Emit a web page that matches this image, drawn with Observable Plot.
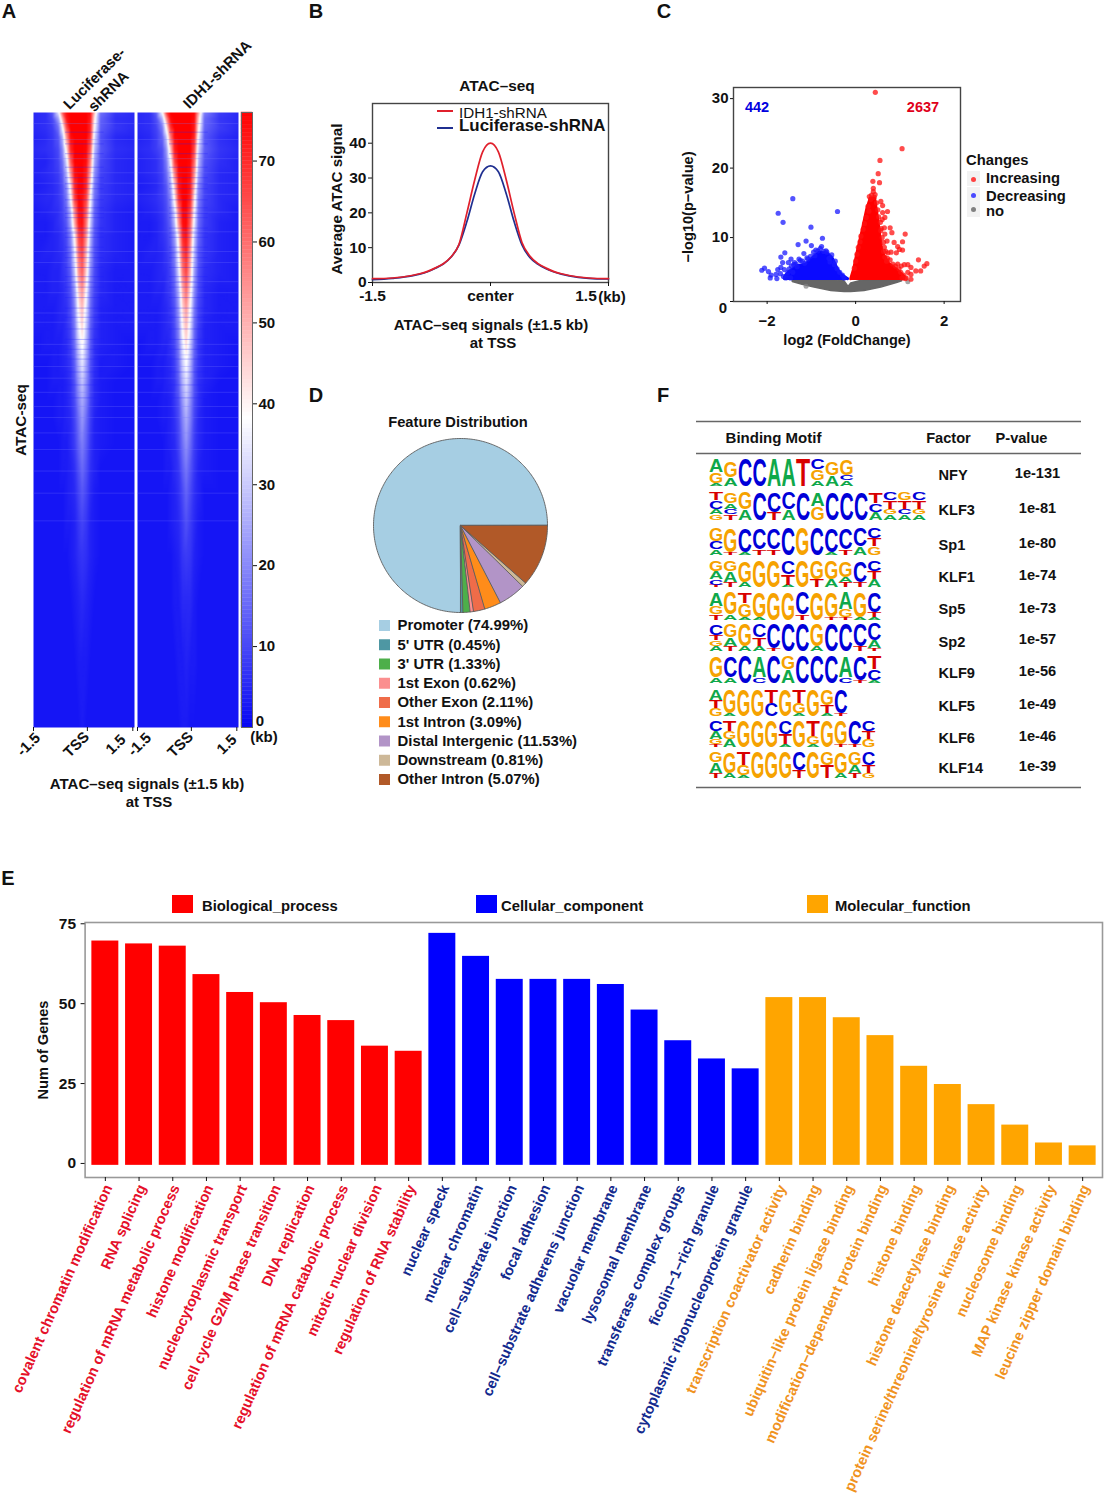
<!DOCTYPE html>
<html><head><meta charset="utf-8">
<script src="https://cdn.jsdelivr.net/npm/d3@7"></script>
<script src="https://cdn.jsdelivr.net/npm/@observablehq/plot@0.6"></script>
<style>
html,body{margin:0;padding:0;background:#fff}
#page{position:relative;width:1104px;height:1500px;overflow:hidden;font-family:"Liberation Sans",Arial,sans-serif;color:#111}
#page>svg{position:absolute;overflow:visible}
.lb{position:absolute;white-space:nowrap;font-weight:bold;line-height:1}
.sw{position:absolute}
</style></head><body><div id="page"></div>
<script>
// ---------- Panel A: heatmap profile ----------
const heatKb=[-1.5,-1.14,-0.94,-0.76,-0.64,-0.52,-0.40,-0.28,-0.16,-0.05,0.07,0.19,0.31,0.49,0.94,1.5];
const heatRank=[0,1,2.5,4,6,8,10,12,14,16,18,20,23,26,29,32,35,38,41,44,47,50,54,58,62,67,72,80,90,100];
const heatLuc=[
[5,6,12,34,62,74,76,76,76,76,76,74,48,16,7,5],
[5,6,10,24,50,72,76,76,76,76,76,72,42,14,6,5],
[5,6,8,16,36,64,76,76,76,76,76,70,38,13,7,5],
[4,5,7,12,26,54,74,76,76,76,76,68,33,11,5,4],
[5,6,7,10,20,42,70,76,76,76,75,62,28,12,6,5],
[4,4,6,9,16,32,62,76,76,76,74,56,24,10,5,4],
[4,5,6,8,13,26,52,74,76,76,72,50,21,9,5,4],
[3,4,5,7,11,20,42,70,76,76,70,44,18,8,5,4],
[4,5,5,7,10,17,36,66,76,74,66,38,16,8,5,4],
[3,4,5,6,9,14,28,56,74,74,62,34,14,7,4,3],
[3,3,4,6,8,12,24,50,72,74,58,30,13,7,4,3],
[3,3,4,5,7,10,19,40,66,70,54,27,12,6,4,3],
[3,4,4,5,6,9,16,34,60,66,48,24,11,6,4,3],
[3,3,4,4,6,8,13,28,54,62,44,20,10,5,3,3],
[3,3,4,4,5,7,11,22,46,54,38,17,9,5,3,3],
[3,3,3,4,5,6,10,19,40,48,33,15,8,4,3,3],
[3,3,3,4,4,6,9,17,35,44,29,13,7,4,3,3],
[2,3,3,3,4,5,8,15,30,39,26,12,6,4,3,2],
[2,2,3,3,4,5,7,13,26,34,23,11,6,3,3,2],
[2,2,3,3,3,4,6,11,22,29,20,10,5,3,2,2],
[2,2,2,3,3,4,6,10,19,25,18,9,5,3,2,2],
[2,2,2,3,3,4,5,9,16,22,15,8,4,3,2,2],
[2,2,2,2,3,3,5,8,14,18,13,7,4,3,2,2],
[2,2,2,2,3,3,4,6,11,15,11,6,4,2,2,2],
[2,2,2,2,2,3,4,5,9,12,9,5,3,2,2,2],
[2,2,2,2,2,3,3,4,7,9,7,4,3,2,2,2],
[2,2,2,2,2,2,3,4,6,7,6,4,3,2,2,2],
[2,2,2,2,2,2,2,3,4,5,4,3,2,2,2,2],
[2,2,2,2,2,2,2,2,3,3,3,2,2,2,2,2],
[2,2,2,2,2,2,2,2,2,3,2,2,2,2,2,2]];
const heatIdh=[
[5,6,14,38,66,76,76,76,76,76,76,75,52,18,8,5],
[5,6,11,27,54,74,76,76,76,76,76,74,46,15,7,5],
[5,6,9,18,40,68,76,76,76,76,76,72,41,14,8,5],
[4,5,8,14,29,58,75,76,76,76,76,70,36,12,6,4],
[5,6,8,11,22,46,72,76,76,76,76,65,31,13,7,5],
[4,5,6,10,18,36,66,76,76,76,75,60,27,11,6,4],
[4,5,6,9,15,29,56,75,76,76,74,54,24,10,5,4],
[3,4,5,8,12,23,46,72,76,76,72,48,20,9,5,4],
[4,5,6,8,11,19,40,68,76,76,70,42,18,9,5,4],
[3,4,5,7,10,16,32,60,75,75,66,38,16,8,5,3],
[3,3,4,6,9,14,27,54,74,75,62,34,15,8,4,3],
[3,3,4,6,8,12,22,44,70,73,58,30,14,7,4,3],
[3,4,4,5,7,10,18,38,64,70,52,27,12,7,4,3],
[3,3,4,5,6,9,15,32,58,66,48,23,11,6,4,3],
[3,3,4,4,6,8,13,26,50,60,42,20,10,5,3,3],
[3,3,3,4,5,7,11,22,44,53,37,17,9,5,3,3],
[3,3,3,4,5,6,10,19,39,48,33,15,8,4,3,3],
[2,3,3,4,4,6,9,17,34,43,29,14,7,4,3,2],
[2,2,3,3,4,5,8,15,30,38,26,12,7,4,3,2],
[2,2,3,3,4,5,7,13,26,33,23,11,6,4,2,2],
[2,2,2,3,3,4,7,11,22,29,20,10,6,3,2,2],
[2,2,2,3,3,4,6,10,19,25,18,9,5,3,2,2],
[2,2,2,2,3,4,5,9,16,21,15,8,5,3,2,2],
[2,2,2,2,3,3,5,7,13,17,12,7,4,3,2,2],
[2,2,2,2,2,3,4,6,10,14,10,6,4,2,2,2],
[2,2,2,2,2,3,4,5,8,11,8,5,3,2,2,2],
[2,2,2,2,2,2,3,4,7,8,7,4,3,2,2,2],
[2,2,2,2,2,2,3,3,5,5,5,3,2,2,2,2],
[2,2,2,2,2,2,2,3,3,4,3,3,2,2,2,2],
[2,2,2,2,2,2,2,2,3,3,2,2,2,2,2,2]];
const streakDark=[3.2,5.1,6.7,8.9,10.6,11.6,12.4,14.2,15.5,16.4,17.1,18.8,19.6,20.3,21.9,22.8,23.6,25.2,26.7,27.6,28.4,30.1,31.8,33.3,35.2,36.9,38.5,40.1,42.2,44.3,46.4];
const streakLight=[1.8,4.4,7.5,9.8,11.5,13.3,16.2,19.4,22.6,24.4,27.5,29.3,32.6,34.1,37.7,39.4,41.3,43.2,45.5,47.8,49.6,52.1,54.8,58.3,61.9,66.4];
const heatTicks=[-1.5,0.1,1.45];
const heatTickText=["-1.5","TSS","1.5"];
const barTicks=[10,20,30,40,50,60,70];

// ---------- Panel B ----------
const profKb=[-1.5,-1.25,-1,-0.9,-0.8,-0.7,-0.6,-0.5,-0.4,-0.3,-0.2,-0.1,0,0.1,0.2,0.3,0.4,0.5,0.6,0.7,0.8,0.9,1,1.25,1.5];
const profIdh=[1.1,1.3,2,2.5,3.2,4.2,5.4,7.4,11,20,29.5,37.5,40,37.5,29.5,20,11.5,7.6,5.5,4.2,3.2,2.5,2,1.3,1.1];
const profLuc=[0.8,1.2,1.9,2.4,3.1,4.1,5.3,7.3,10.8,17.5,25.5,31.8,33.5,31.8,25.5,17.5,10.8,7.2,5.3,4,3.1,2.4,1.9,1.2,1];

// ---------- Panel C: dense clouds as envelopes, separate points as dots ----------
const grayEnvX=[-1.42,-1.2,-0.93,-0.55,-0.25,-0.16,-0.1,0.2,0.58,0.95,1.05];
const grayLow=[3.6,3.2,2.8,2.3,2.15,2.15,2.15,2.3,2.8,3.5,3.7];
const grayHigh=[3.9,3.9,3.9,3.9,3.7,2.9,3.4,3.9,3.9,3.9,3.9];
const blueEnvX=[-1.6,-1.5,-1.3,-1.12,-0.97,-0.82,-0.63,-0.52,-0.4,-0.33,-0.17];
const blueTop=[4.3,5,5.9,6.1,7,7.8,7.7,7,5.4,4.7,4];
const redEnvX=[-0.1,-0.03,0.05,0.16,0.26,0.34,0.44,0.5,0.57,0.61,0.76,0.95,1.1];
const redTop=[4,5.5,8,11,14,15.6,15.6,13,9.6,7.8,6.2,5.3,4.4];
const redX=[0.445,1.05,0.55,0.51,0.39,0.54,0.4,0.4,0.31,0.57,0.61,0.72,0.61,0.66,0.6,0.78,0.65,0.82,1.12,0.66,0.57,0.71,0.87,1.06,0.95,0.99,1.06,0.92,0.73,0.8,1.42,1.61,1.55,1.47,1.36,1.25,1.18,1.25,1.14,1.25,1.03,1.1,0.95,1.18,
0.28,0.3,0.24,0.2,0.17,0.12,0.1,0.06,0.03,0,-0.03,0.34,0.42,0.47,0.5,0.52,0.56,0.58,0.6,0.63,0.65,0.68,0.72,0.78,0.84,0.9,0.98,1.02,1.08,1.12,1.05,0.66,0.63,0.7,0.44,0.36];
const redY=[30.9,22.8,21.1,19.2,18.1,17.9,17.1,16.6,15.9,15.2,14.6,13.75,13.6,12.9,12.6,11.4,11.4,10.7,10.5,10.5,11,9.5,9.3,9.4,8.7,8.3,8.2,7.8,7.8,7.9,6.8,6.25,5.9,5.2,5.2,5.7,5,4.7,4.2,4,5.9,6.1,6.2,6.1,
14.5,13.8,12.9,12,11.2,10.2,9.4,8.6,7.6,6.6,5.6,15.5,15.8,15,14,13,12.2,11.3,10,9.3,8.6,8,7,6.8,6.2,5.9,5.5,5,4.6,4.1,4.2,7.2,8,6.6,16.2,16.1];
const blueX=[-1.42,-1.75,-0.41,-1.64,-1.01,-0.75,-1.12,-1.3,-1,-0.77,-1.6,-1.17,-1.69,-0.9,-0.67,-0.54,-1.46,-1.52,-2.06,-2.12,-1.97,-1.91,-1.93,-1.8,-1.76,-1.78,-1.69,-1.61,-1.53,-1.65,-1.58,-1.25,-1.35,-1.2,
-1.45,-1.4,-1.32,-1.28,-1.15,-1.08,-1.02,-0.95,-0.92,-0.85,-0.8,-0.72,-0.65,-0.6,-0.58,-0.48,-0.46,-0.42,-0.36,-0.3,-0.26,-1.7,-1.63,-1.55,-1.47,-1.42,-1.5,-1.38,-1.1];
const blueY=[15.6,13.5,13.75,12.2,11.5,9.9,9.5,9,8.85,8.7,7.8,7.7,7.2,8.2,8.1,7.5,6.9,6.4,5.6,5.3,5.1,4.6,4.2,4.7,5.4,4.1,5.7,5.4,5,6.4,4.2,6.7,6.2,6.6,
5.9,6.1,5.8,6.9,6.3,6.9,7.3,7.9,7.4,8.1,8.4,8,7.9,7,6.5,6.1,6.6,5.5,5,4.6,4.2,4.8,4.4,4.6,4.2,5,5.5,6.4,7.1];
const grayX=[1.18,-1.12];
const grayY=[3.65,3.0];

// ---------- Panel D ----------
const pieLegend=["Promoter (74.99%)","5' UTR (0.45%)","3' UTR (1.33%)","1st Exon (0.62%)","Other Exon (2.11%)","1st Intron (3.09%)","Distal Intergenic (11.53%)","Downstream (0.81%)","Other Intron (5.07%)"];
const pieColors=["#a6cee3","#4e97a3","#4daf4a","#fb8f8f","#ef6c49","#ff8c1a","#b294c7","#cdb898","#b15928"];
const pieDrawn=[74.99,0.45,1.33,0.62,2.11,3.09,5.07,0.81,11.53];

// ---------- Panel E ----------
const termsBP=["covalent chromatin modification","RNA splicing","regulation of mRNA metabolic process","histone modification","nucleocytoplasmic transport","cell cycle G2/M phase transition","DNA replication","regulation of mRNA catabolic process","mitotic nuclear division","regulation of RNA stability"];
const termsCC=["nuclear speck","nuclear chromatin","cell−substrate junction","focal adhesion","cell−substrate adherens junction","vacuolar membrane","lysosomal membrane","transferase complex groups","ficolin−1−rich granule","cytoplasmic ribonucleoprotein granule"];
const termsMF=["transcription coactivator activity","cadherin binding","ubiquitin−like protein ligase binding","modification−dependent protein binding","histone binding","histone deacetylase binding","protein serine/threonine/tyrosine kinase activity","nucleosome binding","MAP kinase kinase activity","leucine zipper domain binding"];
const countsBP=[69.6,68.7,68,59.1,53.5,50.3,46.3,44.7,36.7,35.1];
const countsCC=[72,64.8,57.6,57.6,57.6,56,48,38.4,32.7,29.6];
const countsMF=[51.9,51.9,45.6,40,30.4,24.7,18.4,12,6.4,5.5];

// ---------- Panel F ----------
const motifFactor=["NFY","KLF3","Sp1","KLF1","Sp5","Sp2","KLF9","KLF5","KLF6","KLF14"];
const motifP=["1e-131","1e-81","1e-80","1e-74","1e-73","1e-57","1e-56","1e-49","1e-46","1e-39"];
const motifs=[
["A5G4A1","G6A3","C10","C10","A10","A10","T10","C4G4A2","G5A4","G6C2A2"],
["T3C3A2G2","G4A2C2T2","G6A4","C10","C7T3","C6A4","C10","A5G5","C10","C10","C10","T4C3A3","C3T3G2A2","G3T3C2A2","C3T3G2A2"],
["G5C3A2","G9T1","C9A1","C8T2","C8T2","C10","G10","C10","C9A1","C8T2","C7A3","C4T3G3"],
["G4A3C2T1","G4A4T2","G8A2","G10","G10","C5T4A1","G10","G7T3","G7A3","G6A2T2","C8T2","C4T3A3"],
["A5G3T2","G8A2","T4G5A1","G9A1","G10","G10","C8T2","G10","G9T1","A6G3T1","G9A1","C7T2A1"],
["C4T2G2A2","G5A3T2","G8A2","C5T3A2","C9T1","C10","C10","G8A2","C10","C10","C8T2","C6A3T1"],
["G8A2","C8A2","C10","A8C2","C10","G5A5","C10","C10","C10","A8C2","C9T1","T5C4A1"],
["A4T3G3","G9A1","G10","G10","T5C5","G10","T5G4A1","G10","G6T3A1","C9T1"],
["C4A3G2T1","T4G3A3","G10","G10","G10","C5T4A1","G10","T6G3A1","G10","G9T1","C9T1","C4T3G3"],
["G4A4T2","G8A2","T5G4A1","G10","G10","G10","C7T3","G10","G5T5","G8A2","G5A3T2","C5T3G2"]];

// ---------- layout constants (not data) ----------
const page=document.getElementById("page");
const FONT="'Liberation Sans',Arial,sans-serif";
const baseStyle=(size=15)=>({fontFamily:FONT,fontSize:size+"px",fontWeight:"bold",color:"#111",background:"transparent",overflow:"visible"});
function place(node,x,y){node.style.left=x+"px";node.style.top=y+"px";page.appendChild(node);return node;}
function label(t,cx,cy,o={}){const d=document.createElement("div");d.className="lb";d.textContent=t;
  const a=o.anchor||"middle";const tx=a==="middle"?"-50%":a==="start"?"0":"-100%";
  d.style.left=cx+"px";d.style.top=cy+"px";d.style.fontSize=(o.size||14)+"px";d.style.color=o.color||"#111";
  if(o.weight)d.style.fontWeight=o.weight;
  d.style.transform=`translate(${tx},-50%) rotate(${o.rotate||0}deg)`;page.appendChild(d);return d;}
function swatch(x,y,w,h,c,r){const d=document.createElement("div");d.className="sw";d.style.cssText=`left:${x}px;top:${y}px;width:${w}px;height:${h}px;background:${c};${r?"border-radius:50%;":""}`;page.appendChild(d);}

// panel letters
[["A",9,11],["B",316,11],["C",664,11],["D",316,395],["F",663,395],["E",8,878]].forEach(([t,x,y])=>label(t,x,y,{size:20}));

// ---------- A ----------
const heatColor={type:"linear",domain:[0,38,76],range:["#0808f4","#ffffff","#ff0000"]};
function heat(mat,left,labelDx){
  const cells=[];mat.forEach((row,r)=>row.forEach((v,c)=>cells.push({kb:heatKb[c],rank:heatRank[r],v})));
  const svg=Plot.plot({width:131,height:675,marginLeft:20,marginRight:10,marginTop:0,marginBottom:60,style:baseStyle(15),
    x:{domain:[-1.5,1.5]},y:{domain:[0,100],reverse:true,axis:null},color:heatColor,
    marks:[Plot.raster(cells,{x:"kb",y:"rank",fill:"v",interpolate:"barycentric",pixelSize:1}),
      Plot.ruleY(streakLight,{y:d=>d,x1:-1.5,x2:1.5,stroke:"#7878ff",strokeOpacity:0.3,strokeWidth:0.9}),
      Plot.ruleY(streakDark,{y:d=>d,x1:-0.55,x2:0.6,stroke:"#2020ff",strokeOpacity:0.34,strokeWidth:0.9}),
      Plot.axisX(heatTicks,{tickSize:4,text:null,label:null}),
      ...heatTicks.map((t,i)=>Plot.text([t],{x:d=>d,y:100,text:()=>heatTickText[i],dy:17,dx:labelDx[i],rotate:-45,fontSize:15}))]});
  return place(svg,left-20,112);
}
heat(heatLuc,33,[-5,-11,-17]);heat(heatIdh,137,[2,-11,-10]);
const levels=d3.range(0,76,0.5);
place(Plot.plot({width:50,height:615,marginLeft:0,marginRight:39,marginTop:0,marginBottom:0,style:baseStyle(15),
  x:{domain:[0,1],axis:null},y:{domain:[0,76]},color:heatColor,
  marks:[Plot.rect(levels,{x1:0,x2:1,y1:d=>d,y2:d=>d+0.5,fill:d=>d,stroke:d=>d,strokeWidth:0.4}),
    Plot.frame({stroke:"#666",strokeWidth:1}),
    Plot.axisY(barTicks,{anchor:"right",tickSize:4,tickPadding:2,label:null})]}),241,112);
label("0",260,720,{size:15});label("(kb)",264,736,{size:15});
label("Luciferase-",94,78,{size:15,rotate:-45});label("shRNA",108,91,{size:15,rotate:-45});
label("IDH1-shRNA",217,74,{size:15,rotate:-45});
label("ATAC-seq",21,420,{size:15.3,rotate:-90});
label("ATAC–seq signals (±1.5 kb)",147,783,{size:15});label("at TSS",149,801,{size:15});

// ---------- B ----------
const prof=(s,ys)=>profKb.map((k,i)=>({k,v:ys[i],s}));
place(Plot.plot({width:328,height:252,marginLeft:72,marginRight:20,marginTop:43,marginBottom:30,style:baseStyle(15.5),
  x:{domain:[-1.5,1.5]},y:{domain:[0,51.4]},
  marks:[Plot.frame({stroke:"#444",strokeWidth:1.4}),
    Plot.line(prof("L",profLuc),{x:"k",y:"v",stroke:"#1f2f90",strokeWidth:1.7,curve:"monotone-x"}),
    Plot.line(prof("I",profIdh),{x:"k",y:"v",stroke:"#e0202c",strokeWidth:1.7,curve:"monotone-x"}),
    Plot.axisX([-1.5,0,1.5],{tickSize:4,text:null,label:null}),
    Plot.axisX([-1.5,0],{tickSize:0,tickPadding:7,label:null,tickFormat:d=>d===0?"center":"-1.5"}),
    Plot.axisY([0,10,20,30,40],{tickSize:4,tickPadding:2,label:null})]}),300,60);
label("1.5",586,296,{size:15.5});label("(kb)",612,296,{size:15});
label("ATAC–seq",497,86,{size:15.4});
label("Average ATAC signal",337,199,{size:15.2,rotate:-90});
label("ATAC–seq signals (±1.5 kb)",491,324,{size:15});label("at TSS",493,342,{size:15});
swatch(437,110,16,2,"#e0202c");swatch(437,127,16,2,"#1f2f90");
label("IDH1-shRNA",459,113,{size:15.2,anchor:"start",weight:"normal"});
label("Luciferase-shRNA",459,126,{size:16.9,anchor:"start"});

// ---------- C ----------
const env=(xs,lo,hi)=>xs.map((x,i)=>({x,lo:Array.isArray(lo)?lo[i]:lo,hi:hi[i]}));
const pts=(xs,ys)=>xs.map((x,i)=>({x,y:ys[i]}));
place(Plot.plot({width:300,height:262,marginLeft:53,marginRight:20,marginTop:17,marginBottom:31,style:baseStyle(15),
  x:{domain:[-2.76,2.37]},y:{domain:[0.8,31.6]},
  marks:[
    Plot.areaY(env(grayEnvX,grayLow,grayHigh),{x:"x",y1:"lo",y2:"hi",fill:"#666",stroke:"#666",strokeWidth:1.5}),
    Plot.dot(pts(grayX,grayY),{x:"x",y:"y",r:2.5,fill:"#808080",fillOpacity:0.7}),
    Plot.areaY(env(blueEnvX,4.05,blueTop),{x:"x",y1:"lo",y2:"hi",fill:"#0a0aff",stroke:"#0a0aff",strokeWidth:3,strokeLinejoin:"round"}),
    Plot.dot(pts(blueX,blueY),{x:"x",y:"y",r:2.6,fill:"#1a1aff",fillOpacity:0.75}),
    Plot.areaY(env(redEnvX,4.05,redTop),{x:"x",y1:"lo",y2:"hi",fill:"#ff0000",stroke:"#ff0000",strokeWidth:3,strokeLinejoin:"round"}),
    Plot.dot(pts(redX,redY),{x:"x",y:"y",r:2.6,fill:"#ff1010",fillOpacity:0.75}),
    Plot.frame({stroke:"#444",strokeWidth:1.4}),
    Plot.axisX([-2,0,2],{tickSize:3,tickPadding:11,label:null,tickFormat:d=>d<0?"−2":String(d)}),
    Plot.axisY([0.8,10,20,30],{tickSize:3,tickPadding:2,label:null,tickFormat:d=>d<1?"":String(d)})]}),680,70);
label("0",723,307,{size:15});
label("442",757,107,{size:14.5,color:"#0000e0"});label("2637",923,107,{size:14.5,color:"#e0001a"});
label("−log10(p−value)",688,207,{size:14.6,rotate:-90});
label("log2 (FoldChange)",847,340,{size:14.5});
label("Changes",966,160,{size:14.8,anchor:"start"});
swatch(967,171,13,15,"#f2f2f2");swatch(967,187,13,15,"#f2f2f2");swatch(967,202,13,15,"#f2f2f2");
swatch(971,177,5,5,"#ff4040",1);swatch(971,193,5,5,"#4a4aff",1);swatch(971,207,5,5,"#808080",1);
label("Increasing",986,178,{size:14.8,anchor:"start"});label("Decreasing",986,196,{size:14.8,anchor:"start"});label("no",986,211,{size:14.8,anchor:"start"});

// ---------- D ----------
const pieSum=d3.sum(pieDrawn);
let cum=0;const pieLine=[];
pieDrawn.forEach((v,i)=>{const a0=cum/pieSum*2*Math.PI,a1=(cum+v)/pieSum*2*Math.PI;cum+=v;
  pieLine.push({x:0,y:0,s:i});
  const n=Math.max(2,Math.ceil((a1-a0)/0.02));
  for(let j=0;j<=n;j++){const a=a0+(a1-a0)*j/n;pieLine.push({x:Math.cos(a),y:Math.sin(a),s:i});}
});
place(Plot.plot({width:180,height:180,margin:0,style:baseStyle(14),
  x:{domain:[-90/87,90/87],axis:null},y:{domain:[-90/87,90/87],axis:null},
  color:{domain:d3.range(pieDrawn.length),range:pieColors,type:"ordinal"},
  marks:[Plot.line(pieLine,{x:"x",y:"y",z:"s",fill:"s",stroke:"#5c5c5c",strokeWidth:0.9,curve:"linear-closed"})]}),370,435);
label("Feature Distribution",458,422,{size:14.7});
place(Plot.plot({width:220,height:176,margin:0,style:baseStyle(14.9),
  x:{domain:[0,220],range:[0,220],axis:null},y:{type:"point",domain:pieLegend,range:[8,162],padding:0,round:false,axis:null},
  marks:[Plot.dot(pieLegend,{x:14,y:d=>d,symbol:"square",r:6.2,fill:(d,i)=>pieColors[i]}),
    Plot.text(pieLegend,{x:27,y:d=>d,text:d=>d,textAnchor:"start",fontSize:14.9})]}),370,617);

// ---------- E ----------
const terms=[...termsBP,...termsCC,...termsMF];
const counts=[...countsBP,...countsCC,...countsMF];
const groups=[...termsBP.map(()=>"BP"),...termsCC.map(()=>"CC"),...termsMF.map(()=>"MF")];
const barFill={BP:"#ff0000",CC:"#0000ff",MF:"#ffa500"};
const textFill={BP:"#e5102a",CC:"#132a8e",MF:"#f0931f"};
const table=terms.map((t,i)=>({t,c:counts[i],g:groups[i]}));
place(Plot.plot({width:1104,height:640,marginLeft:84.6,marginRight:2,marginTop:62,marginBottom:323,style:baseStyle(15.5),
  x:{type:"band",domain:terms,paddingInner:0.2,paddingOuter:0.1,insetLeft:3.4,insetRight:3,round:false},
  y:{domain:[-4.4,75.4]},
  marks:[Plot.frame({stroke:"#999",strokeWidth:1.6}),
    Plot.rect(table,{x:"t",y1:-0.6,y2:"c",fill:d=>barFill[d.g]}),
    Plot.axisX({tickSize:4,text:null,label:null}),
    Plot.text(table,{x:"t",y:-4.4,text:"t",dy:8,dx:3,rotate:-66,textAnchor:"end",fill:d=>textFill[d.g],fontSize:14.7,fontWeight:"bold",lineAnchor:"middle"}),
    Plot.axisY([0,25,50,75],{tickSize:4,tickPadding:5,label:null})]}),0,860);
label("Num of Genes",43,1050,{size:14.6,rotate:-90});
swatch(172,895,21,18,"#ff0000");swatch(476,895,21,18,"#0000ff");swatch(807,895,21,18,"#ffa500");
label("Biological_process",202,906,{size:14.8,anchor:"start"});
label("Cellular_component",501,906,{size:14.8,anchor:"start"});
label("Molecular_function",835,906,{size:14.8,anchor:"start"});

// ---------- F ----------
const LOGO_X=18.3,F_ORIGIN=[690,410];
const rowBase=[75,109.3,144,176.7,209.3,240.7,272.3,305,336,367.3];
const rowH=[27.3,27.6,27.3,26.7,27.6,27.7,27.3,26,26,26.3];
const colW=[14.5,14.5,14.4,14.4,14.4,14.4,14.4,13.9,13.9,13.9];
const letterColor={A:"#0fa84a",C:"#0000d8",G:"#f6a200",T:"#d80000"};
const letterW={A:0.722,C:0.722,G:0.778,T:0.611};
const glyphs=[];
motifs.forEach((m,r)=>m.forEach((col,c)=>{
  const parts=[...col.matchAll(/([ACGT])(\d+)/g)].map(p=>({ch:p[1],n:+p[2]}));
  let bottom=rowBase[r];
  const unit=rowH[r]/10;
  parts.reverse().forEach(p=>{
    const h=p.n*unit;
    glyphs.push({ch:p.ch,cx:LOGO_X+(c+0.5)*colW[r],base:bottom,h,w:colW[r]});
    bottom-=h;
  });
}));
const factorY=[65,100,135,167,199,232,263,296,328,358];
const pvalY=[63,98,133,165,198,229,261,294,326,356];
const fSvg=Plot.plot({width:400,height:385,margin:0,style:baseStyle(14.6),
  x:{domain:[0,400],range:[0,400],axis:null},y:{domain:[0,385],range:[0,385],axis:null},
  marks:[
    Plot.ruleY([11,43,377],{x1:6,x2:391,stroke:"#666",strokeWidth:1.5}),
    Plot.text(["Binding Motif"],{x:83,y:28,text:d=>d,fontSize:15}),
    Plot.text(["Factor"],{x:258,y:28,text:d=>d,fontSize:14.6}),
    Plot.text(["P-value"],{x:331,y:28,text:d=>d,fontSize:14.6}),
    Plot.text(motifFactor,{x:248,y:(d,i)=>factorY[i],text:d=>d,textAnchor:"start",fontSize:14.6}),
    Plot.text(motifP,{x:347,y:(d,i)=>pvalY[i],text:d=>d,fontSize:14.6}),
    Plot.text(glyphs,{x:"cx",y:"base",text:"ch",fill:d=>letterColor[d.ch],fontSize:20,fontWeight:"bold",lineAnchor:"bottom"})
  ]});
const allText=[...fSvg.querySelectorAll("text")];
allText.slice(allText.length-glyphs.length).forEach((el,i)=>{
  const g=glyphs[i];const sx=g.w/(letterW[g.ch]*20)*0.98,sy=g.h/14.4;
  el.setAttribute("transform",(el.getAttribute("transform")||"")+` scale(${sx.toFixed(3)},${sy.toFixed(3)})`);
});
place(fSvg,F_ORIGIN[0],F_ORIGIN[1]);
</script></body></html>
